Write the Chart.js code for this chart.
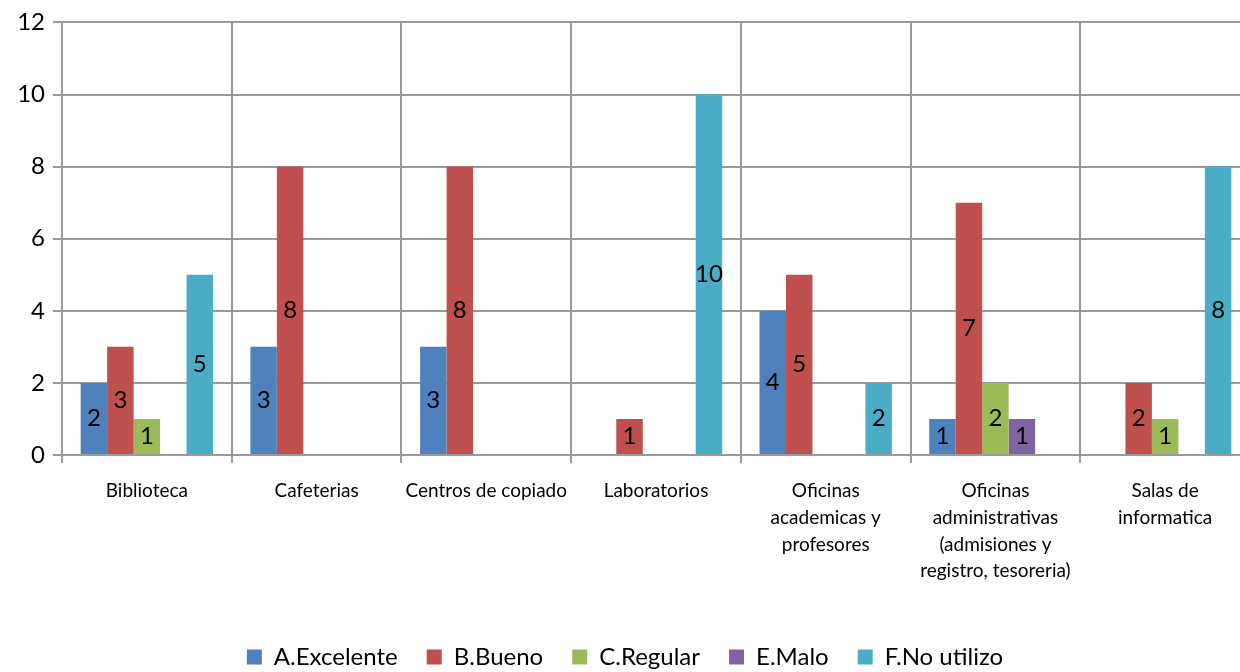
<!DOCTYPE html>
<html lang="es">
<head>
  <meta charset="UTF-8" />
  <title>Valoración de espacios</title>
  <script src="https://cdn.jsdelivr.net/npm/chart.js@4.4.0/dist/chart.umd.min.js"></script>
  <style>
    *{box-sizing:border-box;margin:0;padding:0}
    html,body{width:1240px;height:672px;overflow:hidden;background:#fff}
    #wrap{position:relative;width:1252px;height:672px}
  </style>
</head>
<body>
<div id="wrap"><canvas id="chart"></canvas></div>
<script>
/* data */
const categories=['Biblioteca','Cafeterias','Centros de copiado','Laboratorios',['Oficinas','academicas y','profesores'],['Oficinas','administrativas','(admisiones y','registro, tesoreria)'],['Salas de','informatica']];
const excelente=[2,3,3,null,4,1,null];
const bueno=[3,8,8,1,5,7,2];
const regular=[1,null,null,null,null,2,1];
const malo=[null,null,null,null,null,1,null];
const noUtilizo=[5,null,null,10,2,null,8];
const yTicks=[0,2,4,6,8,10,12];

const font="Lato, 'Open Sans', sans-serif";

/* value labels in the middle of each bar */
const barLabels={id:'barLabels',afterDatasetsDraw(c){const ctx=c.ctx;ctx.save();ctx.font='24px '+font;ctx.fillStyle='#000';ctx.textAlign='center';ctx.textBaseline='middle';
  c.data.datasets.forEach((ds,i)=>{c.getDatasetMeta(i).data.forEach((b,j)=>{const v=ds.data[j];if(v==null)return;ctx.fillText(v,b.x,(b.y+b.base)/2)})});ctx.restore()}};

new Chart('chart',{type:'bar',
  data:{labels:categories,datasets:[
    {label:'A.Excelente',data:excelente,backgroundColor:'#4F81BD'},
    {label:'B.Bueno',data:bueno,backgroundColor:'#C0504D'},
    {label:'C.Regular',data:regular,backgroundColor:'#9BBB59'},
    {label:'E.Malo',data:malo,backgroundColor:'#8064A2'},
    {label:'F.No utilizo',data:noUtilizo,backgroundColor:'#4BACC6'}]},
  options:{responsive:true,maintainAspectRatio:false,animation:false,
    datasets:{bar:{barPercentage:1,categoryPercentage:0.78}},
    layout:{padding:{top:20,right:2,bottom:0,left:0}},
    plugins:{tooltip:{enabled:false},
      legend:{position:'bottom',maxHeight:56,labels:{font:{family:font,size:24},color:'#000',boxWidth:15,boxHeight:15,padding:29}}},
    scales:{
      x:{grid:{offset:true,color:'#9a9a9a',lineWidth:2,tickLength:8},border:{color:'#9a9a9a',width:2},
        ticks:{font:{family:font,size:19,lineHeight:1.4},color:'#000',maxRotation:0,autoSkip:false,padding:15},
        afterFit(s){s.height=161}},
      y:{min:0,max:12,grid:{color:'#9a9a9a',lineWidth:2,tickLength:9},border:{color:'#9a9a9a',width:2},
        afterBuildTicks(s){s.ticks=yTicks.map(v=>({value:v}))},
        ticks:{font:{family:font,size:24},color:'#000',padding:8},
        afterFit(s){s.width=62}}}},
  plugins:[barLabels]});
</script>
</body>
</html>
